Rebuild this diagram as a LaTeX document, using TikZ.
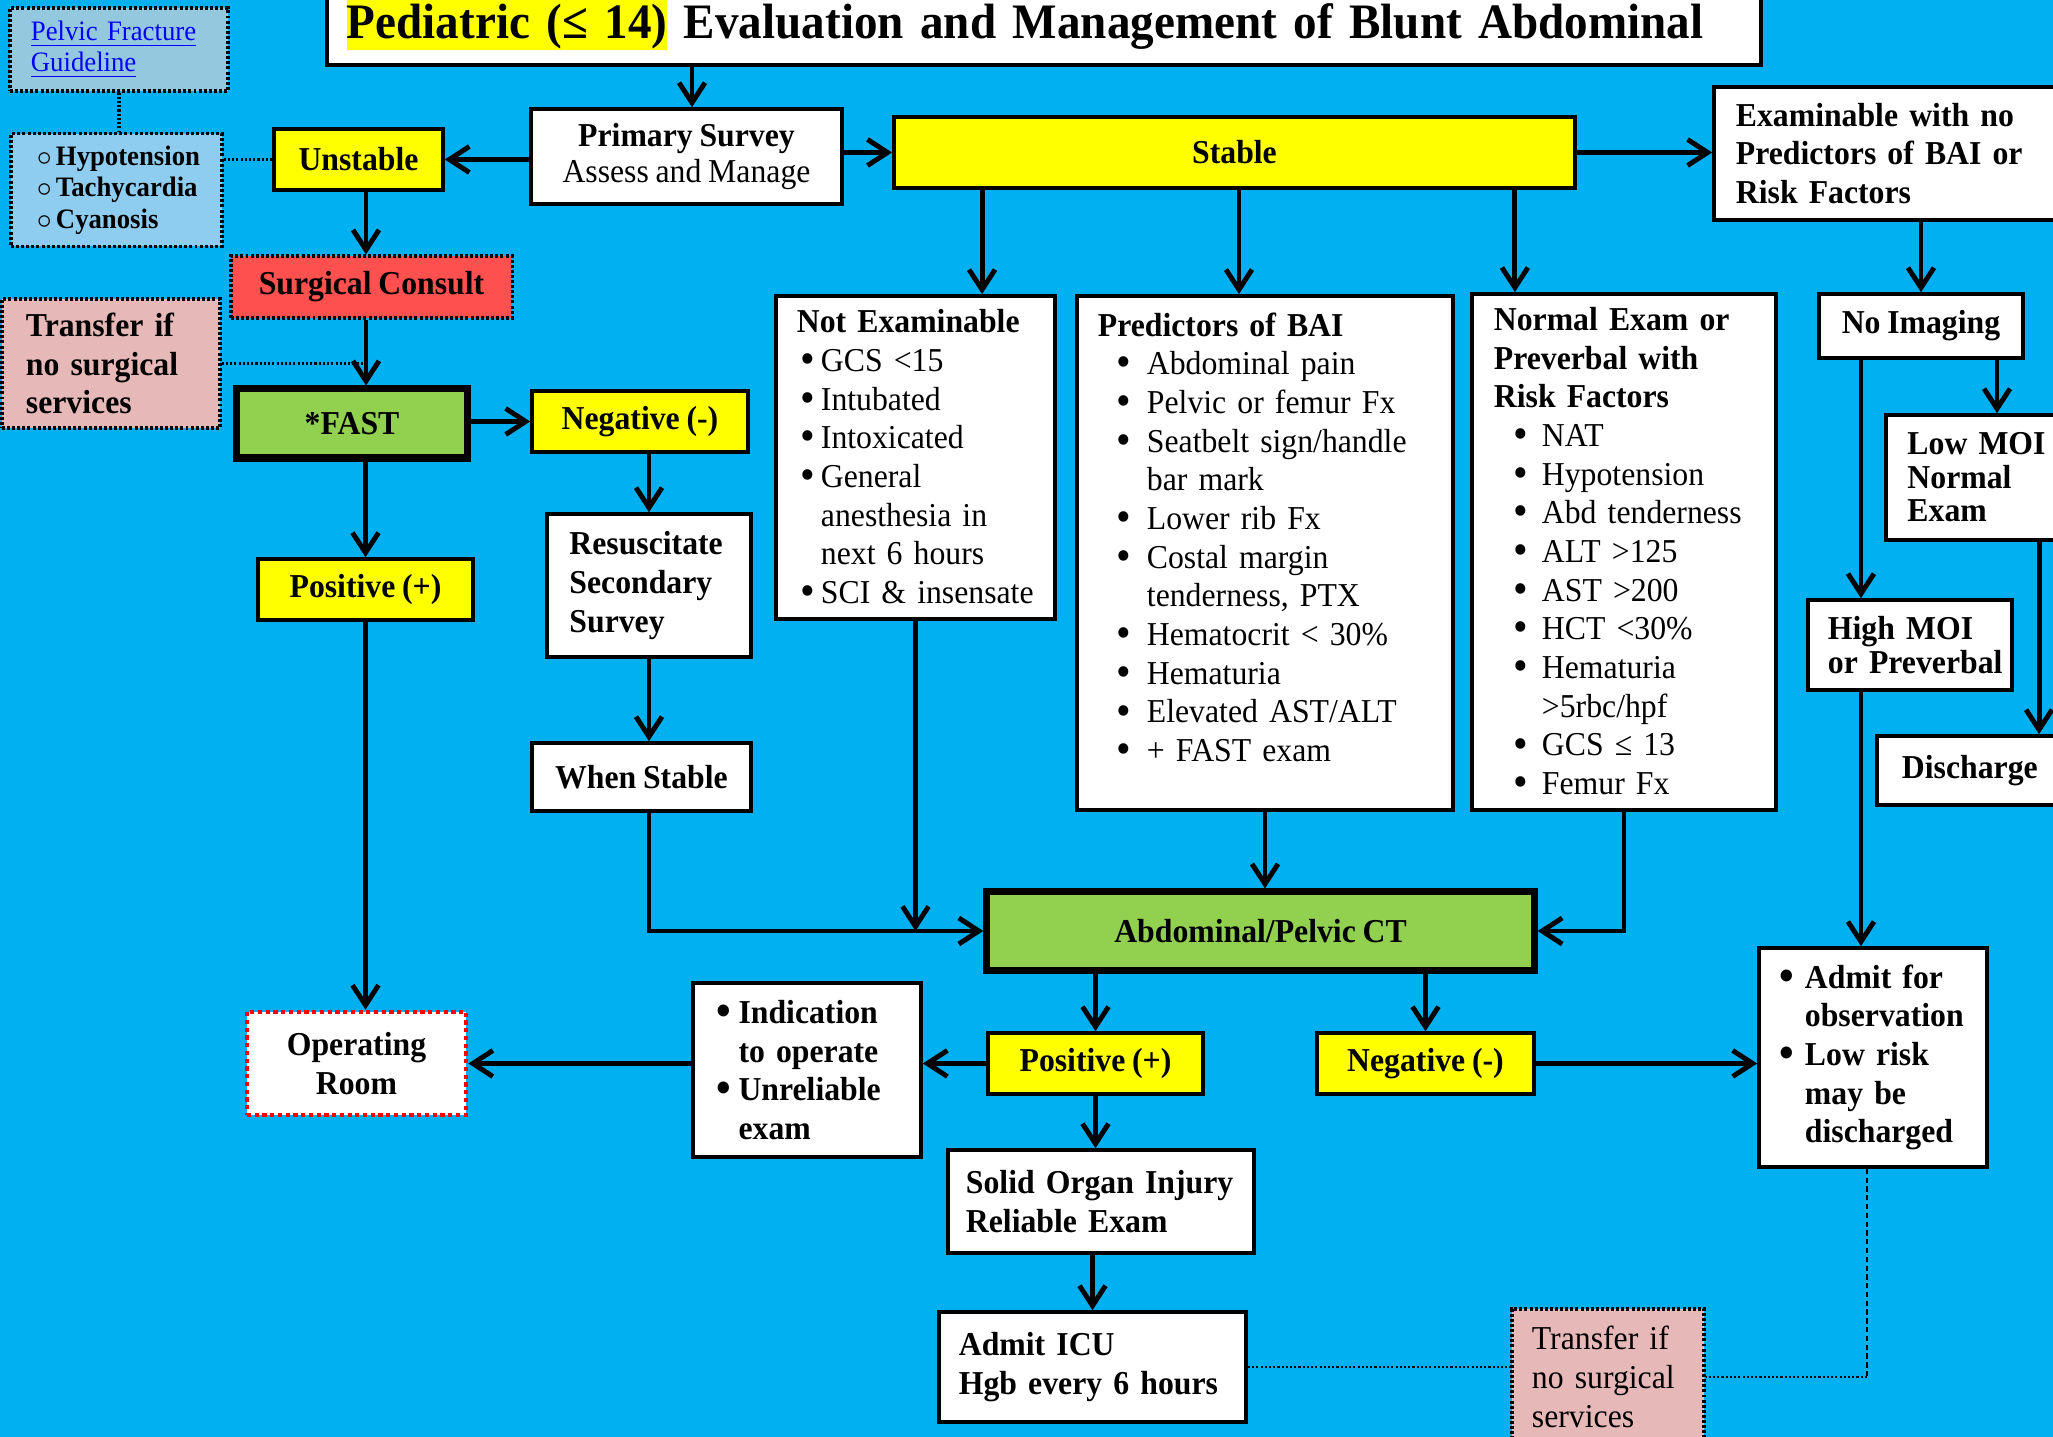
\documentclass[tikz,border=0pt]{standalone}
\usepackage{fontspec}
\setmainfont{Liberation Serif}[FakeStretch=0.95, WordSpace=0.85]
\usepackage{tikz}
\usetikzlibrary{arrows.meta}

\definecolor{skyblue}{HTML}{00B0F0}
\definecolor{hlyellow}{HTML}{FFFF00}
\definecolor{ctgreen}{HTML}{92D050}
\definecolor{consultred}{HTML}{FF5050}
\definecolor{transferpink}{HTML}{E6B9B8}
\definecolor{signblue}{HTML}{8ECDF0}
\definecolor{linkbox}{HTML}{93C8DF}
\definecolor{linkblue}{HTML}{0000FF}

\newcommand{\boxfont}{\fontsize{9.5}{11}\selectfont}
\newcommand{\smallboxfont}{\fontsize{8}{8.8}\selectfont}
\newcommand{\bul}[2]{\hspace*{#1}\makebox[#2][l]{\raisebox{-0.6pt}{\fontsize{12.5}{11}\selectfont\textbullet}}}
\newcommand{\cir}[2]{\hspace*{#1}\makebox[#2][l]{$\circ$}}
\newcommand{\titlemark}[1]{{\setlength{\fboxsep}{0pt}\colorbox{hlyellow}{\rule[-2.9pt]{0pt}{14pt}#1}}}

\begin{document}
\begin{tikzpicture}[
    x=0.01cm, y=-0.01cm,
    box/.style={rectangle, draw, fill=white, line width=1pt, align=center, font=\boxfont\bfseries},
    ybox/.style={box, fill=hlyellow},
    gbox/.style={box, fill=ctgreen, line width=2pt},
    dotbox/.style={box, line width=0.9pt, dash pattern=on 0.85pt off 0.6pt},
    sz/.style 2 args={minimum width=#1cm, minimum height=#2cm},
    lbox/.style 2 args={align=left, text width=#1cm, inner xsep=#2cm},
    arrow/.style={-{Straight Barb[length=2mm,width=2.6mm]}, line width=1.4pt},
    link/.style={line width=0.8pt, dash pattern=on 0.6pt off 0.6pt}
]
\useasboundingbox (0,0) rectangle (2053,1437);
\clip (0,0) rectangle (2053,1437);
\fill[skyblue] (0,0) rectangle (2053,1437);

\node[box, anchor=base west, align=left, text width=13.93cm, inner xsep=0.2cm, inner ysep=0pt,
      text height=0.79cm, text depth=0.26cm, line width=1.1pt,
      font=\fontsize{14.1}{16}\selectfont\bfseries] (title) at (325,39)
    {\titlemark{Pediatric (≤ 14)} Evaluation and Management of Blunt Abdominal};

\node[dotbox, lbox={1.76}{0.21}, sz={2.18}{0.83}, fill=linkbox, text=linkblue, font=\smallboxfont] (guide) at (119,49.5)
    {\underline{Pelvic Fracture}\\\underline{Guideline}};
\node[dotbox, lbox={1.71}{0.2}, sz={2.11}{1.12}, fill=signblue, font=\fontsize{8}{9}\selectfont\bfseries] (signs) at (116.5,190)
    {\cir{0.06cm}{0.19cm}Hypotension\\\cir{0.06cm}{0.19cm}Tachycardia\\\cir{0.06cm}{0.19cm}Cyanosis};
\node[ybox, sz={1.69}{0.61}] (unst) at (358.5,159.5) {Unstable};
\node[box, sz={3.11}{0.95}, font=\fontsize{9.5}{10.3}\selectfont] (prim) at (686.5,156.5)
    {\textbf{Primary Survey}\\Assess and Manage};
\node[ybox, sz={6.81}{0.71}] (stable) at (1234.5,152.5) {Stable};
\node[box, lbox={3.12}{0.22}, sz={3.56}{1.33}] (exam) at (1892,153.5)
    {Examinable with no\\Predictors of BAI or\\Risk Factors};

\node[dotbox, sz={2.81}{0.62}, fill=consultred] (surg) at (371.5,287) {Surgical Consult};
\node[dotbox, lbox={1.70}{0.24}, sz={2.18}{1.29}, fill=transferpink] (trleft) at (111,363.5)
    {Transfer if\\no surgical\\services};
\node[gbox, sz={2.30}{0.69}] (fast) at (352,423.5) {*FAST};
\node[ybox, sz={2.16}{0.61}] (negfast) at (640,421.5) {Negative (-)};
\node[ybox, sz={2.15}{0.61}] (posfast) at (365.5,589.5) {Positive (+)};
\node[box, lbox={1.59}{0.225}, sz={2.04}{1.43}] (resus) at (649,585.5) {Resuscitate\\Secondary\\Survey};
\node[box, sz={2.19}{0.68}] (whenst) at (641.5,777) {When Stable};
\node[box, sz={2.19}{1.03}, draw=red, line width=1.3pt, dash pattern=on 1.2pt off 1pt] (orroom) at (356.5,1063.5)
    {Operating\\Room};

\node[box, lbox={2.45}{0.17}, sz={2.79}{3.23}, font=\boxfont] (notex) at (915.5,457.5)
    {\hspace*{0.04cm}\textbf{Not Examinable}\\
     \bul{0.08cm}{0.2cm}GCS <15\\
     \bul{0.08cm}{0.2cm}Intubated\\
     \bul{0.08cm}{0.2cm}Intoxicated\\
     \bul{0.08cm}{0.2cm}General\\
     \hspace*{0.28cm}anesthesia in\\
     \hspace*{0.28cm}next 6 hours\\
     \bul{0.08cm}{0.2cm}SCI \& insensate};
\node[box, lbox={3.34}{0.21}, sz={3.76}{5.14}, font=\boxfont] (pred) at (1265,553)
    {\textbf{Predictors of BAI}\\
     \bul{0.19cm}{0.30cm}Abdominal pain\\
     \bul{0.19cm}{0.30cm}Pelvic or femur Fx\\
     \bul{0.19cm}{0.30cm}Seatbelt sign/handle\\
     \hspace*{0.49cm}bar mark\\
     \bul{0.19cm}{0.30cm}Lower rib Fx\\
     \bul{0.19cm}{0.30cm}Costal margin\\
     \hspace*{0.49cm}tenderness, PTX\\
     \bul{0.19cm}{0.30cm}Hematocrit < 30\%\\
     \bul{0.19cm}{0.30cm}Hematuria\\
     \bul{0.19cm}{0.30cm}Elevated AST/ALT\\
     \bul{0.19cm}{0.30cm}+ FAST exam\\[-2pt]\mbox{}};
\node[box, lbox={2.68}{0.18}, sz={3.04}{5.16}, font=\boxfont] (normal) at (1624,552)
    {\hspace*{0.04cm}\textbf{Normal Exam or}\\
     \hspace*{0.04cm}\textbf{Preverbal with}\\
     \hspace*{0.04cm}\textbf{Risk Factors}\\
     \bul{0.24cm}{0.28cm}NAT\\
     \bul{0.24cm}{0.28cm}Hypotension\\
     \bul{0.24cm}{0.28cm}Abd tenderness\\
     \bul{0.24cm}{0.28cm}ALT >125\\
     \bul{0.24cm}{0.28cm}AST >200\\
     \bul{0.24cm}{0.28cm}HCT <30\%\\
     \bul{0.24cm}{0.28cm}Hematuria\\
     \hspace*{0.52cm}>5rbc/hpf\\
     \bul{0.24cm}{0.28cm}GCS ≤ 13\\
     \bul{0.24cm}{0.28cm}Femur Fx};
\node[gbox, sz={5.47}{0.78}] (ct) at (1260.5,931) {Abdominal/Pelvic CT};

\node[box, sz={2.04}{0.64}] (noimg) at (1921,326) {No Imaging};
\node[box, lbox={1.41}{0.216}, sz={1.84}{1.25}, font=\fontsize{9.5}{9.5}\selectfont\bfseries] (lowmoi) at (1978,477.5)
    {Low MOI\\Normal\\Exam};
\node[box, lbox={1.74}{0.15}, sz={2.04}{0.90}, font=\fontsize{9.5}{9.7}\selectfont\bfseries] (highmoi) at (1910,645)
    {\hspace*{0.05cm}High MOI\\\hspace*{0.05cm}\mbox{or Preverbal}};
\node[box, lbox={1.43}{0.25}, sz={1.93}{0.69}] (disch) at (1973.5,770.5) {Discharge};
\node[box, lbox={1.92}{0.18}, sz={2.28}{2.19}] (admit) at (1873,1057.5)
    {\bul{0.03cm}{0.25cm}Admit for\\\hspace*{0.28cm}observation\\
     \bul{0.03cm}{0.25cm}Low risk\\\hspace*{0.28cm}may be\\\hspace*{0.28cm}discharged};

\node[ybox, sz={2.15}{0.61}] (posct) at (1095.5,1063.5) {Positive (+)};
\node[ybox, sz={2.17}{0.61}] (negct) at (1425.5,1063.5) {Negative (-)};
\node[box, lbox={1.88}{0.2}, sz={2.28}{1.74}] (indic) at (807,1070)
    {\bul{0.04cm}{0.216cm}Indication\\\hspace*{0.256cm}to operate\\
     \bul{0.04cm}{0.216cm}Unreliable\\\hspace*{0.256cm}exam};
\node[box, lbox={2.70}{0.18}, sz={3.06}{1.03}] (solid) at (1101,1201.5) {Solid Organ Injury\\Reliable Exam};
\node[box, lbox={2.67}{0.2}, sz={3.07}{1.10}] (icu) at (1092.5,1367) {Admit ICU\\Hgb every 6 hours};
\node[dotbox, lbox={1.52}{0.2}, sz={1.92}{1.36}, fill=transferpink, font=\boxfont] (trright) at (1608,1377)
    {Transfer if\\no surgical\\services};

\coordinate (tta) at ([xshift=0.055cm]prim.north);
\coordinate (sga) at ([xshift=-0.055cm]surg.north);
\coordinate (nxa) at ([xshift=0.665cm]notex.north);
\coordinate (pda) at ([xshift=-0.26cm]pred.north);
\coordinate (nma) at ([xshift=-1.09cm]normal.north);
\coordinate (lma) at ([xshift=0.19cm]lowmoi.north);
\coordinate (hma) at ([xshift=-0.49cm]highmoi.north);
\coordinate (dsa) at ([xshift=0.655cm]disch.north);
\coordinate (adm) at ([xshift=-0.06cm]admit.south);

\draw[arrow] (tta |- title.south) -- (tta);
\draw[arrow] (prim.west |- unst.east) -- (unst.east);
\draw[arrow] (prim.east |- stable.west) -- (stable.west);
\draw[arrow] (stable.east) -- (exam.west |- stable.east);
\draw[arrow] (nxa |- stable.south) -- (nxa);
\draw[arrow] (pda |- stable.south) -- (pda);
\draw[arrow] (nma |- stable.south) -- (nma);
\draw[arrow] (noimg.north |- exam.south) -- (noimg.north);
\draw[arrow] (lma |- noimg.south) -- (lma);
\draw[arrow] (hma |- noimg.south) -- (hma);
\draw[arrow] (dsa |- lowmoi.south) -- (dsa);
\draw[arrow] (hma |- highmoi.south) -- (hma |- admit.north);
\draw[arrow] (sga |- unst.south) -- (sga);
\draw[arrow] (sga |- surg.south) -- (sga |- fast.north);
\draw[arrow] (fast.east |- negfast.west) -- (negfast.west);
\draw[arrow] (posfast.north |- fast.south) -- (posfast.north);
\draw[arrow] (posfast.south) -- (posfast.south |- orroom.north);
\draw[arrow] (resus.north |- negfast.south) -- (resus.north);
\draw[arrow] (resus.south) -- (resus.south |- whenst.north);
\draw[arrow] (resus.south |- whenst.south) -- (resus.south |- ct.west) -- (ct.west);
\draw[arrow] (notex.south) -- (notex.south |- ct.west);
\draw[arrow] (pred.south) -- (pred.south |- ct.north);
\draw[arrow] (normal.south) -- (normal.south |- ct.east) -- (ct.east);
\draw[arrow] (posct.north |- ct.south) -- (posct.north);
\draw[arrow] (negct.north |- ct.south) -- (negct.north);
\draw[arrow] (posct.west) -- (indic.east |- posct.west);
\draw[arrow] (indic.west |- orroom.east) -- (orroom.east);
\draw[arrow] (negct.east) -- (admit.west |- negct.east);
\draw[arrow] (posct.south) -- (posct.south |- solid.north);
\draw[arrow] (icu.north |- solid.south) -- (icu.north);

\draw[link, line width=1pt] (guide.south) -- (guide.south |- signs.north);
\draw[link] (signs.east |- unst.west) -- (unst.west);
\draw[link] (trleft.east) -- (trleft.east -| sga);
\draw[link] (icu.east) -- (trright.west |- icu.east);
\draw[line width=0.6pt, dash pattern=on 1.5pt off 1pt] (adm) -- (adm |- trright.east);
\draw[link] (adm |- trright.east) -- (trright.east);
\end{tikzpicture}
\end{document}
